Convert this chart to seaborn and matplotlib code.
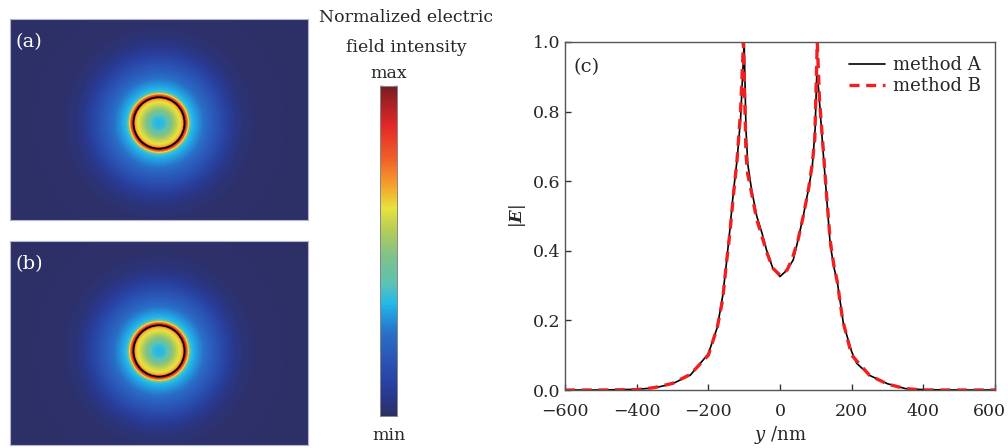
import numpy as np
import pandas as pd
import matplotlib
matplotlib.use("Agg")
import matplotlib.pyplot as plt
import matplotlib.transforms as mtrans
import seaborn as sns
from matplotlib.colors import LinearSegmentedColormap
from matplotlib.patches import Circle

# ---------------- data ----------------
# (c) line cuts of |E| along y (nm)
y_A = [-600, -500, -400, -350, -300, -250, -200, -175, -160, -150, -140, -130,
       -120, -110, -100, -95, -90, -80, -65, -50, -37, -20, 0, 20, 37, 50, 65,
       80, 90, 98, 103, 108, 115, 120, 130, 140, 150, 160, 177, 200, 214, 250,
       300, 350, 400, 500, 600]
E_A = [0.0, 0.0, 0.002, 0.006, 0.018, 0.043, 0.104, 0.18, 0.27, 0.36, 0.46,
       0.57, 0.66, 0.78, 1.0, 0.75, 0.65, 0.58, 0.50, 0.45, 0.40, 0.35, 0.326,
       0.345, 0.374, 0.43, 0.50, 0.58, 0.64, 0.75, 0.92, 0.86, 0.76, 0.69,
       0.555, 0.42, 0.355, 0.31, 0.19, 0.11, 0.077, 0.042, 0.018, 0.004,
       0.001, 0.0, 0.0]

y_B = [-600, -500, -400, -350, -300, -250, -200, -175, -160, -150, -140, -130,
       -120, -110, -102, -95, -90, -80, -65, -50, -35, -20, 0, 20, 35, 50, 65,
       80, 90, 97, 104, 110, 120, 130, 140, 150, 160, 175, 200, 250, 300, 350,
       400, 500, 600]
E_B = [0.0, 0.0, 0.001, 0.007, 0.019, 0.045, 0.10, 0.18, 0.26, 0.36, 0.45,
       0.56, 0.66, 0.80, 1.0, 0.68, 0.62, 0.57, 0.49, 0.44, 0.39, 0.35, 0.33,
       0.345, 0.38, 0.43, 0.50, 0.58, 0.65, 0.72, 1.0, 0.84, 0.70, 0.56, 0.43,
       0.36, 0.31, 0.20, 0.10, 0.042, 0.017, 0.004, 0.0, 0.0, 0.0]

# (a), (b) field maps: radial intensity profile
map_r = [0, 25, 50, 70, 85, 94, 100, 103, 106, 110, 115, 119, 124, 128, 135,
         145, 155, 170, 190, 215, 240, 270, 300, 340, 400, 900]
map_v = [0.33, 0.37, 0.48, 0.58, 0.63, 0.68, 0.80, 1.0, 0.92, 0.85, 0.72,
         0.60, 0.45, 0.37, 0.34, 0.32, 0.30, 0.27, 0.23, 0.19, 0.15, 0.10,
         0.06, 0.03, 0.01, 0.0]
ring_r = 103  # particle boundary (nm)

x_ticks = [-600, -400, -200, 0, 200, 400, 600]
e_ticks = [0.0, 0.2, 0.4, 0.6, 0.8, 1.0]
cbar_ticks = [1 / 6, 3 / 6, 4 / 6, 5 / 6, 1.0]
panel_labels = ["(a)", "(b)", "(c)"]
series_names = ["method A", "method B"]

# ---------------- style ----------------
sns.set_style("ticks")
plt.rcParams["font.family"] = ["DejaVu Serif"]
plt.rcParams["mathtext.fontset"] = "dejavuserif"

cmap = LinearSegmentedColormap.from_list("field", [
    (0.00, "#2d2f63"), (0.05, "#2a3788"), (0.10, "#2842a2"),
    (0.18, "#2a58b8"), (0.25, "#2870c8"), (0.30, "#2496dc"),
    (0.34, "#22b8ea"), (0.40, "#5cc2b4"),
    (0.48, "#7cc28a"), (0.56, "#b2cc58"), (0.63, "#e8e23c"),
    (0.70, "#f5a02e"), (0.78, "#f06028"), (0.88, "#e42828"),
    (1.00, "#7a1c22")])

fig = plt.figure(figsize=(10.08, 4.48), dpi=100)
W, H = 1008, 448


def box(l, t, r, b):
    return [l / W, (H - b) / H, (r - l) / W, (b - t) / H]


# ---------------- field maps (a), (b) ----------------
xs = np.linspace(-600, 600, 300)
dx = xs[1] - xs[0]

cax = fig.add_axes(box(380, 86, 397, 416))
for i, (top, bot, shift) in enumerate([(19, 220, 14), (241, 445, 32)]):
    nrow = int(round(bot - top))
    ys = np.linspace(-(bot - top) * 2 - shift, (bot - top) * 2 - shift, nrow)
    XX, YY = np.meshgrid(xs, ys)
    Z = np.interp(np.hypot(XX, YY), map_r, map_v)
    ax = fig.add_axes(box(10, top, 308, bot))
    sns.heatmap(Z, ax=ax, cmap=cmap, vmin=0, vmax=1,
                cbar=(i == 0), cbar_ax=cax if i == 0 else None,
                xticklabels=False, yticklabels=False, rasterized=True)
    cx = np.interp(0, xs, np.arange(len(xs))) + 0.5
    cy = np.interp(0, ys, np.arange(len(ys))) + 0.5
    ax.add_patch(Circle((cx, cy), ring_r / dx, fill=False, ec="black", lw=1.2))
    ax.text(0.018, 0.93, panel_labels[i], transform=ax.transAxes,
            color="white", fontsize=14, va="top", ha="left")
    for s in ax.spines.values():
        s.set_visible(True)
        s.set_color("#b0b4d8")
        s.set_linewidth(0.8)

cax.set_yticks(cbar_ticks)
cax.tick_params(axis="y", direction="in", left=True, right=True,
                labelleft=False, labelright=False, length=2.5, width=1,
                color="#222222")
cax.set_ylim(0, 1)
for s in cax.spines.values():
    s.set_visible(True)
    s.set_color("#888888")
    s.set_linewidth(0.6)

fig.text(406 / W, 1 - 17 / H, "Normalized electric", ha="center", va="center", fontsize=12.5)
fig.text(406 / W, 1 - 47 / H, "field intensity", ha="center", va="center", fontsize=12.5)
fig.text(389 / W, 1 - 73 / H, "max", ha="center", va="center", fontsize=12.5)
fig.text(389 / W, 1 - 435 / H, "min", ha="center", va="center", fontsize=12.5)

# ---------------- line plot (c) ----------------
axc = fig.add_axes(box(565, 42, 995, 390))
sns.lineplot(x=y_A, y=E_A, ax=axc, color="black", lw=1.2, label=series_names[0])
sns.lineplot(x=y_B, y=E_B, ax=axc, color="#f02020", lw=2.4, label=series_names[1])
axc.lines[1].set_dashes((3.0, 2.0))
axc.set_xlim(-600, 600)
axc.set_ylim(0, 1)
axc.set_xticks(x_ticks)
axc.set_yticks(e_ticks)
axc.set_yticklabels([f"{v:.1f}" for v in e_ticks])
axc.tick_params(direction="in", length=4, width=1, labelsize=12.5,
                color="#333333")
axc.tick_params(axis="x", pad=9)
axc.tick_params(axis="y", pad=3)
last = axc.get_xticklabels()[-1]
last.set_transform(last.get_transform() +
                   mtrans.ScaledTranslation(-6 / 100, 0, fig.dpi_scale_trans))
for s in axc.spines.values():
    s.set_visible(True)
    s.set_color("#555555")
    s.set_linewidth(1.0)
axc.set_xlabel(r"$y$ /nm", fontsize=13, labelpad=3)
axc.set_ylabel(r"$|\boldsymbol{E}|$", fontsize=12, labelpad=4)
axc.text(0.02, 0.955, panel_labels[2], transform=axc.transAxes, fontsize=14,
         va="top", ha="left")
leg = axc.legend(loc="upper right", frameon=False, fontsize=13, handlelength=2.0,
                 labelspacing=0.15, borderaxespad=0.6, handletextpad=0.4,
                 borderpad=0.2)
leg.get_lines()[1].set_dashes((3.0, 2.0))

fig.savefig("out.png", dpi=100)
